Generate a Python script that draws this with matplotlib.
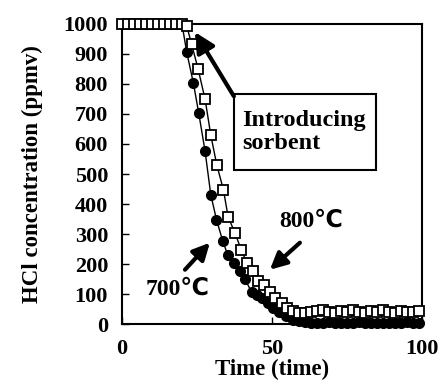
import numpy as np
import matplotlib
matplotlib.use('Agg')
import matplotlib.pyplot as plt
from matplotlib.patches import Rectangle

plt.rcParams['font.family'] = ['Liberation Serif', 'DejaVu Sans']
plt.rcParams['font.weight'] = 'bold'

# 700 C run (filled circles)
t_700 = [0, 2, 4, 6, 8, 10, 12, 14, 16, 18, 20, 21.6, 23.8, 25.6, 27.7, 29.6,
         31.5, 33.6, 35.3, 37.5, 39.3, 41.0, 43.2, 44.9, 46.7, 48.8, 50.5,
         52.5, 54.7, 56.9, 59.1, 61, 63, 65, 67, 69, 71, 73, 75, 77, 79, 81,
         83, 85, 87, 89, 91, 93, 95, 97, 99]
hcl_700 = [1000, 1000, 1000, 1000, 1000, 1000, 1000, 1000, 1000, 1000, 1000,
           905, 803, 702, 576, 431, 348, 276, 229, 203, 178, 150, 106, 97, 86,
           69, 54, 40, 26, 15, 9, 6, 5, 3, 5, 6, 4, 3, 5, 4, 6, 4, 3, 5, 4, 3,
           5, 4, 6, 4, 5]

# 800 C run (open squares)
t_800 = [0, 2, 4, 6, 8, 10, 12, 14, 16, 18, 20, 21.6, 23.2, 25.4, 27.7, 29.6,
         31.6, 33.8, 35.4, 37.7, 39.7, 41.6, 43.6, 45.4, 47.2, 49.3, 51.1,
         53.2, 55.0, 57.1, 59.0, 61, 63, 65, 67, 69, 71, 73, 75, 77, 79, 81,
         83, 85, 87, 89, 91, 93, 95, 97, 99]
hcl_800 = [1000, 1000, 1000, 1000, 1000, 1000, 1000, 1000, 1000, 1000, 1000,
           993, 933, 849, 749, 630, 530, 448, 356, 303, 248, 204, 177, 144,
           129, 108, 88, 70, 55, 43, 36, 38, 40, 42, 48, 40, 38, 42, 40, 48,
           40, 38, 42, 40, 47, 40, 38, 42, 40, 40, 42]

fig = plt.figure(figsize=(4.41, 3.85), dpi=100)
ax = fig.add_axes([0.2766, 0.1584, 0.6803, 0.7793])

ax.plot(t_700, hcl_700, '-k', lw=1, marker='o', ms=7, mfc='black',
        mec='black', clip_on=False, zorder=3)
ax.plot(t_800, hcl_800, '-k', lw=1, marker='s', ms=6.5, mfc='white',
        mec='black', mew=1.3, clip_on=False, zorder=4)

ax.set_xlim(0, 100)
ax.set_ylim(0, 1000)
ax.set_xticks([0, 50, 100])
ax.set_yticks(np.arange(0, 1001, 100))
ax.tick_params(direction='in', length=5, width=1, labelsize=16)
ax.tick_params(axis='y', pad=10)
ax.tick_params(axis='x', pad=11)
for s in ax.spines.values():
    s.set_linewidth(1.5)

ax.set_xlabel('Time (time)', fontsize=16.5, fontweight='bold', labelpad=0)
ax.set_ylabel('HCl concentration (ppmv)', fontsize=16.5, fontweight='bold',
              labelpad=15)

# annotation box
ax.add_patch(Rectangle((37.3, 515), 47.4, 251, fill=False, lw=1.5,
                       edgecolor='black', zorder=5))
ax.text(40, 640, 'Introducing\nsorbent', fontsize=17.5, fontweight='bold',
        ha='left', va='center', linespacing=1.15, zorder=6)
ax.annotate('', xy=(24.3, 973), xytext=(37.3, 759),
            arrowprops=dict(arrowstyle='-|>,head_length=1.2,head_width=0.6',
                            lw=3, color='black', shrinkA=0, shrinkB=0))

ax.text(63, 344, '800℃', fontsize=17, fontweight='bold', ha='center',
        va='center')
ax.annotate('', xy=(49.3, 181), xytext=(59.3, 271),
            arrowprops=dict(arrowstyle='-|>,head_length=1.0,head_width=0.5',
                            lw=3, color='black', shrinkA=0, shrinkB=0))
ax.text(18.7, 117, '700℃', fontsize=17, fontweight='bold', ha='center',
        va='center')
ax.annotate('', xy=(29.3, 271), xytext=(21, 181),
            arrowprops=dict(arrowstyle='-|>,head_length=1.0,head_width=0.5',
                            lw=3, color='black', shrinkA=0, shrinkB=0))

plt.savefig('out.png', dpi=100)
